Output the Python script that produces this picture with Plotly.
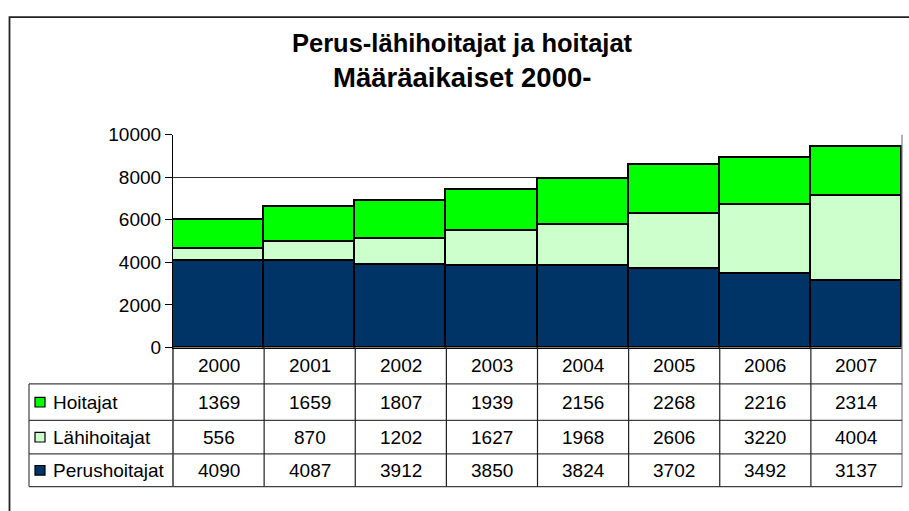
import plotly.graph_objects as go

# ---- data ----
years = ['2000', '2001', '2002', '2003', '2004', '2005', '2006', '2007']
hoitajat = [1369, 1659, 1807, 1939, 2156, 2268, 2216, 2314]
lahihoitajat = [556, 870, 1202, 1627, 1968, 2606, 3220, 4004]
perushoitajat = [4090, 4087, 3912, 3850, 3824, 3702, 3492, 3137]
series_names = ['Hoitajat', 'Lähihoitajat', 'Perushoitajat']
y_ticks = [0, 2000, 4000, 6000, 8000, 10000]
title_1 = 'Perus-lähihoitajat ja hoitajat'
title_2 = 'Määräaikaiset 2000-'

colors = {'Hoitajat': '#00FF00', 'Lähihoitajat': '#CCFFCC', 'Perushoitajat': '#003366'}
values = {'Hoitajat': hoitajat, 'Lähihoitajat': lahihoitajat, 'Perushoitajat': perushoitajat}

W, H = 909, 511
FONT = 'Liberation Sans, Arial, sans-serif'
FS = 19


def px(x):
    return x / W


def py(y):
    return 1 - y / H


# layout geometry (pixels)
PL, PR, PT, PB = 173, 902, 130, 352
rows = [352, 390, 428, 463, 497]
LEG_L = 29

fig = go.Figure()
for name in ['Perushoitajat', 'Lähihoitajat', 'Hoitajat']:
    fig.add_trace(go.Bar(
        x=years, y=values[name], name=name,
        marker=dict(color=colors[name], line=dict(color='black', width=1.8)),
        width=1.0,
    ))

shapes = []
annotations = []

# outer frame
shapes.append(dict(type='rect', xref='paper', yref='paper',
                   x0=px(9.5), x1=px(930), y0=py(7.5), y1=py(530),
                   line=dict(color='#222', width=1.8), fillcolor='rgba(0,0,0,0)'))
# right border of plot + table
shapes.append(dict(type='line', xref='paper', yref='paper',
                   x0=px(PR), x1=px(PR), y0=py(PT), y1=py(rows[-1]),
                   line=dict(color='#808080', width=1.2)))
# axis extension through header row
shapes.append(dict(type='line', xref='paper', yref='paper',
                   x0=px(PL), x1=px(PL), y0=py(PB), y1=py(rows[-1]),
                   line=dict(color='black', width=1.2)))
# legend column left edge
shapes.append(dict(type='line', xref='paper', yref='paper',
                   x0=px(LEG_L), x1=px(LEG_L), y0=py(rows[1]), y1=py(rows[-1]),
                   line=dict(color='#404040', width=1.2)))
# horizontal table lines
for r in rows[1:]:
    shapes.append(dict(type='line', xref='paper', yref='paper',
                       x0=px(LEG_L), x1=px(PR), y0=py(r), y1=py(r),
                       line=dict(color='#404040', width=1.2)))
# vertical column dividers (data coords)
for i in range(1, len(years)):
    shapes.append(dict(type='line', xref='x', yref='paper',
                       x0=i - 0.5, x1=i - 0.5, y0=py(PB), y1=py(rows[-1]),
                       line=dict(color='#202020', width=1.2)))

# header years
for i, yr in enumerate(years):
    annotations.append(dict(x=i, y=py((rows[0] + rows[1]) / 2), xref='x', yref='paper',
                            text=yr, showarrow=False, xanchor='center', yanchor='middle',
                            font=dict(family=FONT, size=FS, color='black')))
# table rows
for k, name in enumerate(series_names):
    yc = (rows[k + 1] + rows[k + 2]) / 2
    shapes.append(dict(type='rect', xref='paper', yref='paper',
                       x0=px(35), x1=px(45), y0=py(yc - 5), y1=py(yc + 5),
                       line=dict(color='black', width=1.2), fillcolor=colors[name]))
    annotations.append(dict(x=px(51), y=py(yc), xref='paper', yref='paper',
                            text=name, showarrow=False, xanchor='left', yanchor='middle',
                            font=dict(family=FONT, size=FS, color='black')))
    for i, v in enumerate(values[name]):
        annotations.append(dict(x=i, y=py(yc), xref='x', yref='paper',
                                text=str(v), showarrow=False, xanchor='center', yanchor='middle',
                                font=dict(family=FONT, size=FS, color='black')))

# titles
annotations.append(dict(x=px(462), y=py(34), xref='paper', yref='paper', text='<b>' + title_1 + '</b>',
                        showarrow=False, xanchor='center', yanchor='middle',
                        font=dict(family=FONT, size=25.5, color='black')))
annotations.append(dict(x=px(462), y=py(70), xref='paper', yref='paper', text='<b>' + title_2 + '</b>',
                        showarrow=False, xanchor='center', yanchor='middle',
                        font=dict(family=FONT, size=27.5, color='black')))

fig.update_layout(
    width=W, height=H, autosize=False,
    margin=dict(l=0, r=0, t=0, b=0),
    paper_bgcolor='white', plot_bgcolor='white',
    barmode='stack', bargap=0, showlegend=False,
    shapes=shapes, annotations=annotations,
    xaxis=dict(domain=[px(PL), px(PR)], type='category', range=[-0.5, len(years) - 0.5],
               showticklabels=False, ticks='', showgrid=False, zeroline=False,
               showline=True, linecolor='black', linewidth=1.2),
    yaxis=dict(domain=[py(PB), py(PT)], range=[0, 10000], tickvals=y_ticks,
               ticktext=[str(t) for t in y_ticks],
               ticks='outside', ticklen=7, tickcolor='black', tickwidth=1.2,
               tickfont=dict(family=FONT, size=FS, color='black'),
               showgrid=True, gridcolor='#303030', gridwidth=1, zeroline=False,
               showline=True, linecolor='black', linewidth=1.2),
    font=dict(family=FONT),
)

fig.write_html('out.html', config={'displayModeBar': False},
               post_script="document.body.style.margin='0';document.body.style.overflow='hidden';")
